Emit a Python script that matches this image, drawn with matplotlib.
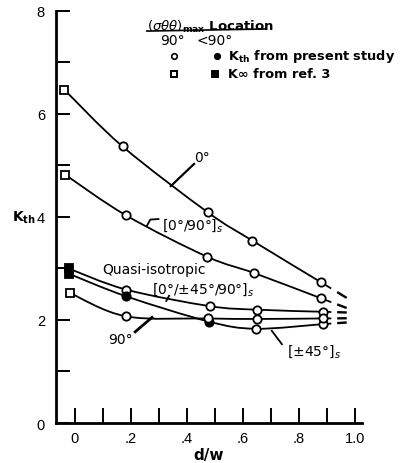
import numpy as np
import matplotlib
matplotlib.use("Agg")
import matplotlib.pyplot as plt
from matplotlib.path import Path
from matplotlib.patches import PathPatch

# ---- data ----
x_0 = [-0.036, 0.171, 0.475, 0.634, 0.879]
y_0 = [6.47, 5.37, 4.09, 3.54, 2.73]

x_090 = [-0.033, 0.184, 0.472, 0.641, 0.879]
y_090 = [4.82, 4.03, 3.23, 2.91, 2.42]

x_qi = [-0.021, 0.184, 0.481, 0.650, 0.885]
y_qi = [3.00, 2.59, 2.27, 2.20, 2.16]

x_45 = [-0.021, 0.184, 0.478, 0.645, 0.885]
y_45 = [2.90, 2.46, 1.97, 1.83, 1.92]

x_90 = [-0.015, 0.184, 0.475, 0.650, 0.885]
y_90 = [2.52, 2.07, 2.03, 2.02, 2.03]

# marker kinds per point: 'os' open square, 'fs' filled square, 'oc' open circle, 'fc' filled circle
m_0 = ['os', 'oc', 'oc', 'oc', 'oc']
m_090 = ['os', 'oc', 'oc', 'oc', 'oc']
m_qi = ['fs', 'oc', 'oc', 'oc', 'oc']
m_45 = ['fs', 'fc', 'fc', 'oc', 'oc']
m_90 = ['os', 'oc', 'oc', 'oc', 'oc']

x_ticks = [0, 0.1, 0.2, 0.3, 0.4, 0.5, 0.6, 0.7, 0.8, 0.9, 1.0]
x_ticklabels = ['0', '', '.2', '', '.4', '', '.6', '', '.8', '', '1.0']
y_ticks = [0, 1, 2, 3, 4, 5, 6, 7, 8]
y_ticklabels = ['0', '', '2', '', '4', '', '6', '', '8']

plt.rcParams['font.family'] = ['Liberation Sans', 'DejaVu Sans']
plt.rcParams['mathtext.fontset'] = 'dejavusans'
LBL = ['DejaVu Sans']

fig = plt.figure(figsize=(4.06, 4.64), dpi=100)
ax = fig.add_axes([0.138, 0.0862, 0.754, 0.888])
ax.set_xlim(-0.066, 1.025)
ax.set_ylim(0, 8)
for s in ['top', 'right']:
    ax.spines[s].set_visible(False)
for s in ['left', 'bottom']:
    ax.spines[s].set_linewidth(2.0)
ax.set_xticks(x_ticks)
ax.set_xticklabels(x_ticklabels, fontsize=10.5)
ax.set_yticks(y_ticks)
ax.set_yticklabels(y_ticklabels, fontsize=10.5)
ax.tick_params(axis='x', direction='in', length=11, width=1.4, pad=6)
ax.tick_params(axis='y', direction='in', length=10, width=1.4, pad=8)
ax.set_xlabel('d/w', fontsize=11, fontweight='bold', labelpad=1, family=LBL)
fig.text(12 / 406, 1 - 218 / 464, r'K$_{\mathbf{th}}$', fontsize=10, fontweight='bold',
         va='center', ha='left', family=LBL)

LW = 1.3


def smooth_curve(xs, ys):
    pts = np.column_stack([xs, ys]).astype(float)
    n = len(pts)
    verts = [pts[0]]
    codes = [Path.MOVETO]
    for i in range(n - 1):
        pp = pts[i - 1] if i > 0 else pts[i]
        pn = pts[i + 2] if i + 2 < n else pts[i + 1]
        c1 = pts[i] + (pts[i + 1] - pp) / 6.0
        c2 = pts[i + 1] - (pn - pts[i]) / 6.0
        verts += [c1, c2, pts[i + 1]]
        codes += [Path.CURVE4] * 3
    ax.add_patch(PathPatch(Path(verts, codes), fill=False, lw=LW, color='black', zorder=2))
    # short solid continuation and dashed extension toward d/w = 1
    d = pts[-1] - pts[-2]
    slope = d[1] / d[0]
    xe = pts[-1][0]
    ye = pts[-1][1]
    ax.plot([xe, 0.912], [ye, ye + slope * (0.912 - xe)], color='black', lw=LW, zorder=2)
    ax.plot([0.936, 0.97], [ye + slope * (0.936 - xe), ye + slope * (0.97 - xe)],
            color='black', lw=LW + 0.4, zorder=2, solid_capstyle='butt')


def draw_markers(xs, ys, kinds):
    for x, y, k in zip(xs, ys, kinds):
        marker = 's' if k[1] == 's' else 'o'
        face = 'black' if k[0] == 'f' else 'white'
        ms = 6.2 if marker == 's' else 6.0
        ax.plot([x], [y], marker=marker, ms=ms, mfc=face, mec='black', mew=1.3,
                linestyle='none', zorder=4)


for xs, ys, ms in [(x_0, y_0, m_0), (x_090, y_090, m_090), (x_qi, y_qi, m_qi),
                   (x_45, y_45, m_45), (x_90, y_90, m_90)]:
    smooth_curve(xs, ys)
    draw_markers(xs, ys, ms)

# ---- curve labels and leaders ----
tfs = 10
ax.text(0.454, 5.16, '0°', fontsize=tfs, ha='center', va='center', family=LBL)
ax.plot([0.426, 0.343], [5.03, 4.60], color='black', lw=1.6)

ax.text(0.311, 3.86, '[0°/90°]$_s$', fontsize=tfs, ha='left', va='center', family=LBL)
ax.plot([0.258, 0.270, 0.299], [3.83, 3.95, 3.96], color='black', lw=1.3)

ax.text(0.098, 2.99, 'Quasi-isotropic', fontsize=tfs, ha='left', va='center', family=LBL)
ax.text(0.276, 2.60, '[0°/±45°/90°]$_s$', fontsize=tfs, ha='left', va='center', family=LBL)
ax.plot([0.327, 0.337], [2.37, 2.47], color='black', lw=1.3)

ax.text(0.163, 1.63, '90°', fontsize=tfs, ha='center', va='center', family=LBL)
ax.plot([0.216, 0.276], [1.77, 2.05], color='black', lw=2.0)

ax.text(0.757, 1.40, '[±45°]$_s$', fontsize=tfs, ha='left', va='center', family=LBL)
ax.plot([0.703, 0.739], [1.79, 1.53], color='black', lw=1.3)

# ---- legend block ----
ax.text(0.258, 7.71, r'$(\sigma\theta\theta)_{\mathbf{max}}$ Location', fontsize=9.5,
        ha='left', va='center', fontweight='bold', family=LBL)
ax.plot([0.258, 0.679], [7.61, 7.65], color='black', lw=1.2)
ax.text(0.349, 7.43, '90°', fontsize=10, ha='center', va='center', family=LBL)
ax.text(0.498, 7.44, '<90°', fontsize=10, ha='center', va='center', family=LBL)
ax.plot([0.353], [7.13], marker='o', ms=4, mfc='white', mec='black', mew=1.2)
ax.plot([0.507], [7.13], marker='o', ms=4, mfc='black', mec='black', mew=1.2)
ax.text(0.548, 7.13, r'K$_{\mathbf{th}}$ from present study', fontsize=9.3,
        ha='left', va='center', fontweight='bold', family=LBL)
ax.plot([0.353], [6.78], marker='s', ms=5, mfc='white', mec='black', mew=1.4)
ax.plot([0.501], [6.78], marker='s', ms=5, mfc='black', mec='black', mew=1.4)
ax.text(0.548, 6.78, 'K∞ from ref. 3', fontsize=9.3, ha='left', va='center',
        fontweight='bold', family=LBL)

fig.savefig('out.png', dpi=100)
